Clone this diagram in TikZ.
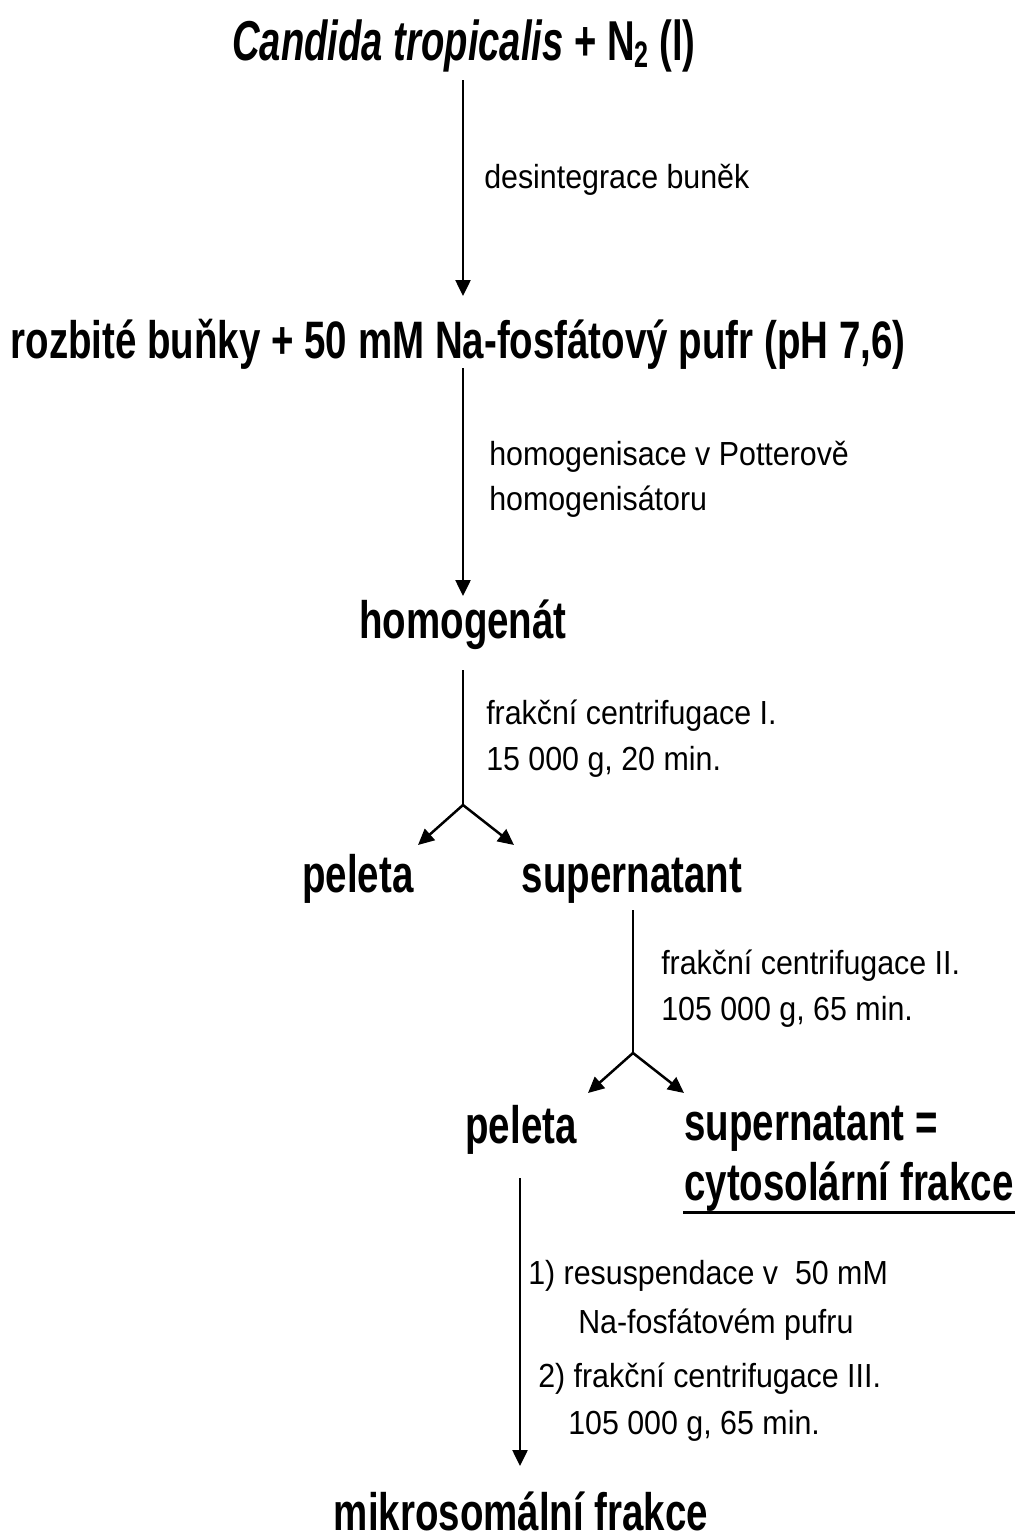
\documentclass[tikz,border=0pt]{standalone}
\usepackage{fontspec}
\setmainfont{Liberation Sans}
\newfontfamily\titlefont[FakeStretch=0.68]{Liberation Sans}
\newfontfamily\bigfont[FakeStretch=0.73]{Liberation Sans}
\newfontfamily\smallfont[FakeStretch=0.91]{Liberation Sans}
\usetikzlibrary{arrows.meta}

\begin{document}
\begin{tikzpicture}[x=0.02cm,y=-0.02cm,line width=0.05cm,
  big/.style={inner sep=0,anchor=base,font=\bigfont\bfseries\fontsize{30}{32}\selectfont},
  lbl/.style={inner sep=0,anchor=base west,font=\smallfont\fontsize{19}{22}\selectfont}]
\tikzstyle{flow} = [draw,-{Triangle[length=0.32cm,width=0.3cm]}]
\useasboundingbox (0,0) rectangle (1020,1539);

% main steps
\node[big,font=\titlefont\bfseries\fontsize{32}{34}\selectfont] (start) at (464,60) {{\itshape Candida tropicalis} + N\raisebox{-0.25ex}{\fontsize{21}{21}\selectfont 2} (l)};
\node[big] (broken) at (458,358) {rozbité buňky + 50 mM Na-fosfátový pufr (pH 7,6)};
\node[big] (homog) at (463,638) {homogenát};
\node[big] (pel1) at (358,892) {peleta};
\node[big] (sup1) at (632,892) {supernatant};
\node[big] (pel2) at (521,1143) {peleta};
\node[big,anchor=base west] (sup2) at (683,1140) {supernatant =};
\node[big,anchor=base west] (cyto) at (683,1200) {cytosolární frakce};
\node[big] (micro) at (521,1530) {mikrosomální frakce};

% labels
\node[lbl] (l1) at (483,188) {desintegrace buněk};
\node[lbl] (l2a) at (488,465) {homogenisace v Potterově};
\node[lbl] (l2b) at (488,510) {homogenisátoru};
\node[lbl] (l3a) at (485,724) {frakční centrifugace I.};
\node[lbl] (l3b) at (485,770) {15 000 g, 20 min.};
\node[lbl] (l4a) at (660,974) {frakční centrifugace II.};
\node[lbl] (l4b) at (660,1020) {105 000 g, 65 min.};
\node[lbl] (l5a) at (527,1284) {1) resuspendace v\ \ 50 mM};
\node[lbl] (l5b) at (577,1333) {Na-fosfátovém pufru};
\node[lbl] (l5c) at (537,1387) {2) frakční centrifugace III.};
\node[lbl] (l5d) at (567,1434) {105 000 g, 65 min.};

% connectors
\coordinate (a1s) at (463,80);
\coordinate (a1e) at (463,296);
\coordinate (a2s) at (463,368);
\coordinate (a2e) at (463,596);
\coordinate (a3s) at (463,670);
\coordinate (fork1) at (463,805);
\coordinate (f1l) at (418,845);
\coordinate (f1r) at (514,845);
\coordinate (a4s) at (633,910);
\coordinate (fork2) at (633,1053);
\coordinate (f2l) at (588,1093);
\coordinate (f2r) at (684,1093);
\coordinate (a5s) at (520,1178);
\coordinate (a5e) at (520,1466);

\draw[flow] (a1s) -- (a1e);
\draw[flow] (a2s) -- (a2e);
\draw (a3s) -- (fork1);
\draw[flow] (fork1) -- (f1l);
\draw[flow] (fork1) -- (f1r);
\draw (a4s) -- (fork2);
\draw[flow] (fork2) -- (f2l);
\draw[flow] (fork2) -- (f2r);
\draw[flow] (a5s) -- (a5e);

% underline
\draw[line width=0.06cm] (cyto.south west) -- (cyto.south east);

\end{tikzpicture}
\end{document}
